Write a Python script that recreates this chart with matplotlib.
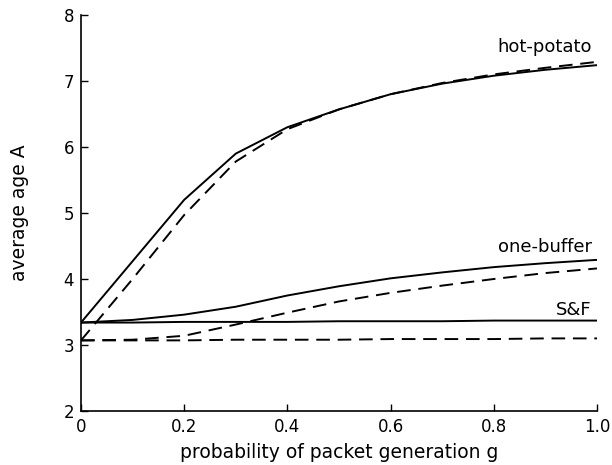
import matplotlib
matplotlib.use("Agg")
import matplotlib.pyplot as plt

g = [0.0, 0.1, 0.2, 0.3, 0.4, 0.5, 0.6, 0.7, 0.8, 0.9, 1.0]
hot_solid = [3.34, 4.27, 5.20, 5.90, 6.30, 6.57, 6.80, 6.96, 7.08, 7.17, 7.24]
hot_dashed = [3.07, 4.00, 4.97, 5.78, 6.27, 6.57, 6.80, 6.97, 7.10, 7.20, 7.29]
one_solid = [3.34, 3.38, 3.46, 3.58, 3.75, 3.89, 4.01, 4.10, 4.18, 4.24, 4.29]
one_dashed = [3.07, 3.08, 3.14, 3.31, 3.49, 3.66, 3.79, 3.90, 4.00, 4.09, 4.16]
sf_solid = [3.34, 3.34, 3.35, 3.35, 3.35, 3.36, 3.36, 3.36, 3.37, 3.37, 3.37]
sf_dashed = [3.07, 3.07, 3.07, 3.08, 3.08, 3.08, 3.09, 3.09, 3.09, 3.10, 3.10]

labels = ["hot-potato", "one-buffer", "S&F"]
label_y = [7.44, 4.41, 3.45]

xticks = [0, 0.2, 0.4, 0.6, 0.8, 1.0]
xticklabels = ["0", "0.2", "0.4", "0.6", "0.8", "1.0"]
yticks = [2, 3, 4, 5, 6, 7, 8]

plt.rcParams['font.family'] = ['DejaVu Sans']
fig = plt.figure(figsize=(6.12, 4.65), dpi=100)
ax = fig.add_axes([81/612, 1-411/465, (597-81)/612, (411-15)/465])

lw = 1.4
dash = (7, 4)
for s, d in [(hot_solid, hot_dashed), (one_solid, one_dashed), (sf_solid, sf_dashed)]:
    ax.plot(g, s, color='black', lw=lw, solid_joinstyle='miter')
    ax.plot(g, d, color='black', lw=lw, dashes=dash)

for t, y in zip(labels, label_y):
    ax.text(0.99, y, t, ha='right', va='baseline', fontsize=13)

ax.set_xlim(0, 1.0)
ax.set_ylim(2, 8)
ax.set_xticks(xticks)
ax.set_xticklabels(xticklabels)
ax.set_yticks(yticks)
ax.tick_params(direction='in', length=5, width=1, labelsize=12, pad=5)
for sp in ['top', 'right']:
    ax.spines[sp].set_visible(False)
for sp in ['left', 'bottom']:
    ax.spines[sp].set_linewidth(1.2)

ax.set_xlabel("probability of packet generation g", fontsize=13.5, labelpad=5)
ax.set_ylabel("average age A", fontsize=13.5, labelpad=25)

fig.savefig("out.png", dpi=100)
